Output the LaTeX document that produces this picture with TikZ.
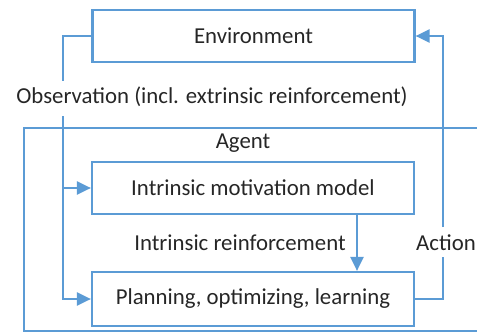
\documentclass[tikz,border=0pt]{standalone}
\usepackage{fontspec}
\setmainfont{Carlito}
\usetikzlibrary{arrows.meta}
\definecolor{lineblue}{RGB}{91,155,213}
\begin{document}
\begin{tikzpicture}[x=1pt, y=-1pt, >={Triangle[length=14pt, width=13pt]}, font=\fontsize{22.8}{26}\selectfont, text=black!85,
    box/.style={draw=lineblue, line width=2.2pt, minimum width=322pt, minimum height=52pt, inner sep=0pt},
    conn/.style={draw=lineblue, line width=2.2pt}]
    \useasboundingbox (0,0) rectangle (477,335);
    \node[box] (env) at (253.5,36) {Environment};
    \node[box] (imm) at (253,188) {Intrinsic motivation model};
    \node[box, minimum height=54pt] (plan) at (253,299) {Planning, optimizing, learning\hspace{14pt}};
    \node (agent) at (243,143) {Agent};
    \node (obs) at (212,97) {Observation (incl. extrinsic reinforcement)};
    \node (ireinf) at (240,243) {Intrinsic reinforcement};
    \node (act) at (446,243) {Action};

    % agent frame, open to the right
    \draw[conn] (477,128) -- (24,128) -- (24,331) -- (477,331);

    \coordinate (obstop) at (63,81);
    \coordinate (obsbot) at (63,116);
    \coordinate (acthigh) at (443,227);
    \coordinate (actlow) at (443,257);

    \draw[conn] (env.west) -| (obstop);
    \draw[conn, ->] (obsbot) |- (plan.west);
    \draw[conn, ->] (obsbot |- imm.west) -- (imm.west);
    \draw[conn, ->] (imm.south -| 357,0) -- (plan.north -| 357,0);
    \draw[conn] (plan.east) -| (actlow);
    \draw[conn, ->] (acthigh) |- (env.east);
\end{tikzpicture}
\end{document}
